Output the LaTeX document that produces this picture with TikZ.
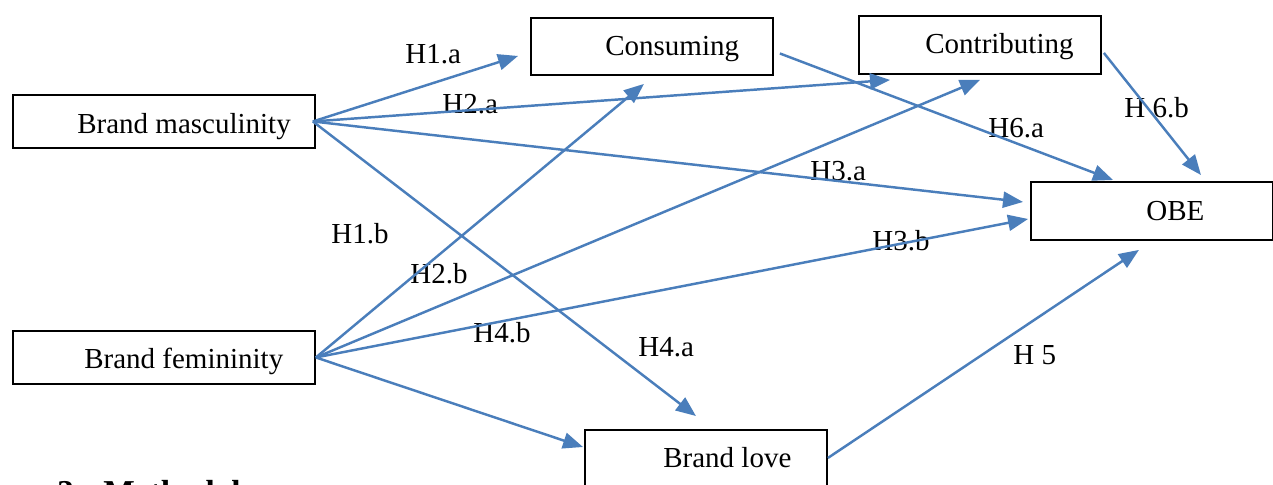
\documentclass[tikz,border=0pt]{standalone}
\usepackage{fontspec}
\setmainfont{Liberation Serif}
\usetikzlibrary{arrows.meta}
\definecolor{linkblue}{RGB}{74,126,187}

\begin{document}
\begin{tikzpicture}[x=0.02cm,y=-0.02cm,
    box/.style={draw,line width=1.1pt,inner sep=0pt,anchor=north west},
    txt/.style={anchor=base west,inner sep=0pt,font=\fontsize{16.5}{18}\selectfont},
    link/.style={linkblue,line width=1.4pt,-{Triangle[length=0.4cm,width=0.32cm]}}]
  \useasboundingbox (0,0) rectangle (1273,484);
  % boxes
  \node[box,minimum width=6.04cm,minimum height=1.06cm] (bm) at (12,94) {};
  \node[box,minimum width=4.84cm,minimum height=1.14cm] (cons) at (530,17) {};
  \node[box,minimum width=4.84cm,minimum height=1.16cm] (cont) at (858,15) {};
  \node[box,minimum width=4.84cm,minimum height=1.16cm] (obe) at (1030,181) {};
  \node[box,minimum width=6.04cm,minimum height=1.06cm] (bf) at (12,330) {};
  \node[box,minimum width=4.84cm,minimum height=1.2cm] (bl) at (584,429) {};
  \node[txt] (tbm) at (77,133) {Brand masculinity};
  \node[txt] (tcons) at (605,55) {Consuming};
  \node[txt] (tcont) at (925,53) {Contributing};
  \node[txt] (tobe) at (1146,220) {OBE};
  \node[txt] (tbf) at (84,368) {Brand femininity};
  \node[txt] (tbl) at (663,467) {Brand love};
  % hypotheses
  \node[txt] (h1a) at (405,63) {H1.a};
  \node[txt] (h2a) at (442,113) {H2.a};
  \node[txt] (h3a) at (810,180) {H3.a};
  \node[txt] (h4a) at (638,356) {H4.a};
  \node[txt] (h1b) at (331,243) {H1.b};
  \node[txt] (h2b) at (410,283) {H2.b};
  \node[txt] (h3b) at (872,250) {H3.b};
  \node[txt] (h4b) at (473,342) {H4.b};
  \node[txt] (h5) at (1013,364) {H 5};
  \node[txt] (h6a) at (988,137) {H6.a};
  \node[txt] (h6b) at (1124,117) {H 6.b};
  % arrows
  \draw[link] ([shift={(-3,0)}]bm.east) -- ([shift={(-12,9.5)}]cons.west);
  \draw[link] ([shift={(-3,0)}]bm.east) -- ([shift={(32,5)}]cont.south west);
  \draw[link] ([shift={(-3,0)}]bm.east) -- ([shift={(-7,-9)}]obe.west);
  \draw[link] ([shift={(-3,0)}]bm.east) -- ([shift={(-10,-13)}]bl.north);
  \draw[link] (bf.east) -- ([shift={(-8,8)}]cons.south);
  \draw[link] (bf.east) -- ([shift={(0,5)}]cont.south);
  \draw[link] (bf.east) -- ([shift={(-2,8)}]obe.west);
  \draw[link] (bf.east) -- ([shift={(-1,18)}]bl.north west);
  \draw[link] ([shift={(6,7)}]cons.east) -- ([shift={(83,-1)}]obe.north west);
  \draw[link] ([shift={(2,8)}]cont.east) -- ([shift={(49,-6)}]obe.north);
  \draw[link] ([shift={(0,-2)}]bl.east) -- ([shift={(-13,9)}]obe.south);
  % cut-off heading below the figure
  \node[anchor=base west,inner sep=0pt,font=\bfseries\fontsize{19}{22}\selectfont] (sec) at (57,503) {3.\hspace{12pt}Methodology};
\end{tikzpicture}
\end{document}
